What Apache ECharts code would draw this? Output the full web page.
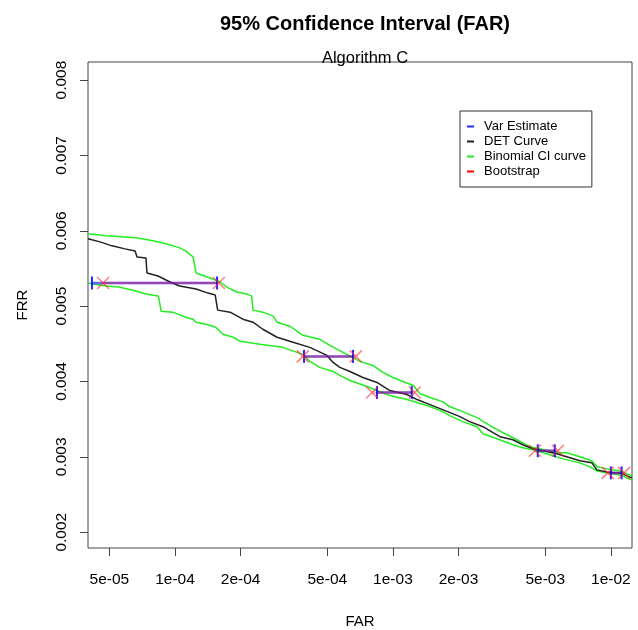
<!DOCTYPE html>
<html>
<head>
<meta charset="utf-8">
<script src="https://cdn.jsdelivr.net/npm/echarts@6/dist/echarts.min.js"></script>
<style>
  html, body { margin: 0; padding: 0; background: #fff; }
  #chart { width: 638px; height: 630px; }
</style>
</head>
<body>
<div id="chart"></div>
<script>
// DET curve (FAR, FRR)
const detFar = [3.99e-5, 4.53e-5, 5.14e-5, 5.90e-5, 6.56e-5, 6.70e-5, 7.36e-5, 7.44e-5, 8.36e-5, 9.49e-5,
  1.05e-4, 1.25e-4, 1.42e-4, 1.53e-4, 1.57e-4, 1.79e-4, 2.05e-4, 2.28e-4, 2.53e-4, 2.94e-4,
  3.48e-4, 4.16e-4, 4.98e-4, 5.31e-4, 5.71e-4, 6.35e-4, 7.28e-4, 8.45e-4, 9.68e-4, 1.16e-3,
  1.29e-3, 1.48e-3, 1.69e-3, 2.03e-3, 2.25e-3, 2.59e-3, 2.88e-3, 3.10e-3, 3.55e-3, 3.94e-3,
  4.39e-3, 4.88e-3, 5.65e-3, 6.49e-3, 7.21e-3, 8.18e-3, 8.63e-3, 9.59e-3, 1.10e-2, 1.25e-2];
const detFrr = [0.005893, 0.005853, 0.005800, 0.005760, 0.005733, 0.005653, 0.005640, 0.005440, 0.005400, 0.005320,
  0.005267, 0.005227, 0.005173, 0.005147, 0.004947, 0.004920, 0.004827, 0.004787, 0.004693, 0.004587,
  0.004520, 0.004453, 0.004347, 0.004253, 0.004187, 0.004133, 0.004053, 0.003987, 0.003880, 0.003827,
  0.003760, 0.003693, 0.003627, 0.003533, 0.003467, 0.003400, 0.003320, 0.003267, 0.003227, 0.003160,
  0.003107, 0.003080, 0.003040, 0.002987, 0.002947, 0.002920, 0.002827, 0.002800, 0.002787, 0.002720];

// binomial CI, upper curve
const upperFar = [3.99e-5, 4.83e-5, 6.62e-5, 7.93e-5, 9.10e-5, 1.05e-4, 1.12e-4, 1.21e-4, 1.25e-4, 1.45e-4,
  1.61e-4, 1.73e-4, 1.92e-4, 2.14e-4, 2.25e-4, 2.28e-4, 2.53e-4, 2.82e-4, 2.94e-4, 3.37e-4,
  3.63e-4, 3.86e-4, 4.62e-4, 5.14e-4, 5.90e-4, 7.06e-4, 8.09e-4, 9.00e-4, 1.00e-3, 1.11e-3,
  1.24e-3, 1.33e-3, 1.48e-3, 1.69e-3, 1.82e-3, 2.09e-3, 2.43e-3, 2.79e-3, 3.20e-3, 3.71e-3,
  4.25e-3, 4.72e-3, 5.65e-3, 6.28e-3, 7.21e-3, 8.18e-3, 8.63e-3, 9.59e-3, 1.10e-2, 1.25e-2];
const upperFrr = [0.005960, 0.005933, 0.005907, 0.005867, 0.005827, 0.005773, 0.005733, 0.005653, 0.005440, 0.005373,
  0.005320, 0.005253, 0.005187, 0.005160, 0.005133, 0.004947, 0.004920, 0.004867, 0.004787, 0.004733,
  0.004667, 0.004613, 0.004560, 0.004480, 0.004387, 0.004267, 0.004213, 0.004120, 0.004053, 0.004000,
  0.003947, 0.003840, 0.003787, 0.003733, 0.003667, 0.003600, 0.003520, 0.003413, 0.003320, 0.003227,
  0.003133, 0.003107, 0.003053, 0.003053, 0.003000, 0.002947, 0.002867, 0.002840, 0.002813, 0.002747];

// binomial CI, lower curve
const lowerFar = [3.99e-5, 4.21e-5, 4.83e-5, 5.53e-5, 6.62e-5, 7.36e-5, 8.36e-5, 8.45e-5, 8.63e-5, 9.79e-5,
  1.12e-4, 1.21e-4, 1.25e-4, 1.39e-4, 1.54e-4, 1.66e-4, 1.85e-4, 1.99e-4, 2.45e-4, 3.13e-4,
  3.86e-4, 4.16e-4, 4.62e-4, 5.31e-4, 5.71e-4, 6.35e-4, 7.60e-4, 8.45e-4, 9.68e-4, 1.16e-3,
  1.29e-3, 1.48e-3, 1.69e-3, 1.82e-3, 2.09e-3, 2.43e-3, 2.59e-3, 3.00e-3, 3.55e-3, 3.94e-3,
  4.39e-3, 5.25e-3, 6.03e-3, 7.21e-3, 8.02e-3, 8.63e-3, 9.59e-3, 1.10e-2, 1.25e-2];
const lowerFrr = [0.005307, 0.005293, 0.005267, 0.005253, 0.005200, 0.005160, 0.005133, 0.005093, 0.004933, 0.004920,
  0.004853, 0.004827, 0.004787, 0.004760, 0.004720, 0.004627, 0.004587, 0.004533, 0.004493, 0.004453,
  0.004360, 0.004267, 0.004187, 0.004133, 0.004080, 0.004013, 0.003933, 0.003880, 0.003813, 0.003760,
  0.003720, 0.003667, 0.003600, 0.003547, 0.003467, 0.003400, 0.003307, 0.003240, 0.003160, 0.003120,
  0.003093, 0.003027, 0.002973, 0.002920, 0.002867, 0.002813, 0.002787, 0.002760, 0.002693];

// 95% intervals on FAR at fixed FRR levels
const ciFrr = [0.005307, 0.004333, 0.003853, 0.003080, 0.002787];
const varLow = [4.16e-5, 3.91e-4, 8.45e-4, 4.62e-3, 1.00e-2];
const varHigh = [1.56e-4, 6.56e-4, 1.22e-3, 5.53e-3, 1.12e-2];
const bootLow = [4.68e-5, 3.86e-4, 8.02e-4, 4.48e-3, 9.68e-3];
const bootHigh = [1.59e-4, 6.76e-4, 1.26e-3, 5.71e-3, 1.15e-2];

const xTickValues = [5e-5, 1e-4, 2e-4, 5e-4, 1e-3, 2e-3, 5e-3, 1e-2];
const xTickLabels = ['5e-05', '1e-04', '2e-04', '5e-04', '1e-03', '2e-03', '5e-03', '1e-02'];
const yTickValues = [0.002, 0.003, 0.004, 0.005, 0.006, 0.007, 0.008];
const yTickLabels = ['0.002', '0.003', '0.004', '0.005', '0.006', '0.007', '0.008'];

const xMin = 3.99e-5, xMax = 1.25e-2;
const yMin = 0.00179, yMax = 0.00824;

const FONT = '"Liberation Sans", Arial, sans-serif';
const xTickLog = xTickValues.map(v => Math.log10(v));

const pairs = (xs, ys) => xs.map((x, i) => [x, ys[i]]);

const series = [
  {
    name: 'Binomial CI curve', type: 'line', data: pairs(upperFar, upperFrr),
    showSymbol: false, color: '#22ee22', lineStyle: { width: 1.5 }
  },
  {
    name: 'Binomial CI curve', type: 'line', data: pairs(lowerFar, lowerFrr),
    showSymbol: false, color: '#22ee22', lineStyle: { width: 1.5 }
  },
  {
    name: 'DET Curve', type: 'line', data: pairs(detFar, detFrr),
    showSymbol: false, color: '#222', lineStyle: { width: 1.5 }
  }
];

ciFrr.forEach((y, i) => {
  series.push({
    name: 'Var Estimate', type: 'line',
    data: [[varLow[i], y], [varHigh[i], y]],
    color: '#0000ff',
    symbol: 'rect', symbolSize: [2, 13],
    itemStyle: { color: 'rgba(0,0,255,0.85)' },
    lineStyle: { width: 2.5, color: 'rgba(40,40,255,0.7)' }
  });
});
ciFrr.forEach((y, i) => {
  series.push({
    name: 'Bootstrap', type: 'line',
    data: [[bootLow[i], y], [bootHigh[i], y]],
    color: '#ff0000',
    symbol: 'path://M0,0L10,10M10,0L0,10', symbolSize: 12,
    itemStyle: { color: '#ff0000', borderColor: 'rgba(255,40,40,0.6)', borderWidth: 1.5 },
    lineStyle: { width: 2.5, color: 'rgba(255,0,0,0.3)' }
  });
});

const chart = echarts.init(document.getElementById('chart'));
const option = {
  animation: false,
  backgroundColor: '#fff',
  textStyle: { fontFamily: FONT },
  title: [
    {
      text: '95% Confidence Interval (FAR)', left: 360, top: 9, textAlign: 'center',
      textStyle: { fontSize: 20, fontWeight: 'bold', color: '#000', fontFamily: FONT }
    },
    {
      text: 'Algorithm C', left: 360, top: 45, textAlign: 'center',
      textStyle: { fontSize: 16.5, fontWeight: 'normal', color: '#000', fontFamily: FONT }
    }
  ],
  legend: {
    orient: 'vertical', left: 460, top: 111,
    data: ['Var Estimate', 'DET Curve', 'Binomial CI curve', 'Bootstrap'],
    icon: 'rect', itemWidth: 7, itemHeight: 2, itemGap: 0,
    itemStyle: { borderWidth: 0 },
    padding: [8, 6, 8, 7],
    borderColor: '#333', borderWidth: 1,
    selectedMode: false,
    textStyle: { fontSize: 13, lineHeight: 15, color: '#000', fontFamily: FONT, padding: [0, 0, 0, 5] }
  },
  grid: {
    left: 88, right: 6, top: 62, bottom: 82,
    outerBoundsMode: 'none', containLabel: false,
    show: true, borderColor: '#444', borderWidth: 1, backgroundColor: 'transparent'
  },
  xAxis: [
    {
      type: 'log', logBase: 10, min: xMin, max: xMax, show: false
    },
    {
      type: 'value', position: 'bottom',
      min: Math.log10(xMin), max: Math.log10(xMax),
      name: 'FAR', nameLocation: 'middle', nameGap: 66,
      nameTextStyle: { fontSize: 15, color: '#000', fontFamily: FONT },
      axisLine: { show: false, onZero: false },
      splitLine: { show: false },
      axisTick: { show: true, length: 8, customValues: xTickLog, lineStyle: { color: '#444' } },
      axisLabel: {
        customValues: xTickLog, margin: 24, fontSize: 15.5, color: '#000', fontFamily: FONT,
        formatter: v => xTickLabels[xTickLog.findIndex(t => Math.abs(t - v) < 1e-6)]
      }
    }
  ],
  yAxis: {
    type: 'value', min: yMin, max: yMax,
    name: 'FRR', nameLocation: 'middle', nameGap: 58,
    nameTextStyle: { fontSize: 15, color: '#000', fontFamily: FONT },
    axisLine: { show: false, onZero: false },
    splitLine: { show: false },
    axisTick: { show: true, length: 8, customValues: yTickValues, lineStyle: { color: '#444' } },
    axisLabel: {
      customValues: yTickValues, rotate: 90, margin: 18, fontSize: 15.5, color: '#000', fontFamily: FONT,
      formatter: v => yTickLabels[yTickValues.findIndex(t => Math.abs(t - v) < 1e-9)]
    }
  },
  series: series.map(s => Object.assign({ xAxisIndex: 0, yAxisIndex: 0 }, s))
};
chart.setOption(option);
</script>
</body>
</html>
